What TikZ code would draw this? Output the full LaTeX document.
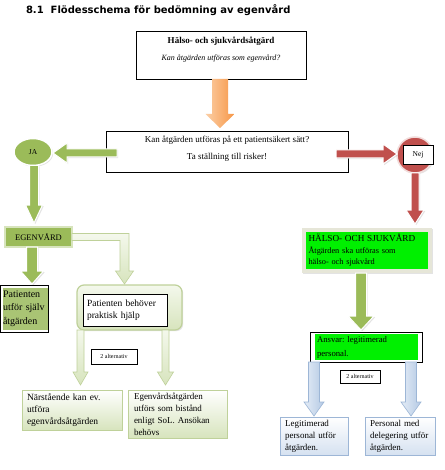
\documentclass[tikz,border=0pt]{standalone}
\usepackage{fontspec}
\setmainfont{Liberation Serif}
\newfontfamily\titlefont{DejaVu Sans}
\usetikzlibrary{calc,shadows,shapes.geometric}
\definecolor{olivegr}{HTML}{9BBB59}
\definecolor{olivelt}{HTML}{A9C474}
\definecolor{palegrA}{HTML}{F4F8EC}
\definecolor{palegrB}{HTML}{D7E4BD}
\definecolor{palegrE}{HTML}{BFD19A}
\definecolor{redacc}{HTML}{C0504D}
\definecolor{redglow}{HTML}{F2DCDB}
\definecolor{brightgr}{HTML}{00F000}
\definecolor{orangeA}{HTML}{FBCFA6}
\definecolor{orangeB}{HTML}{F79646}
\definecolor{blueA}{HTML}{E4ECF6}
\definecolor{blueB}{HTML}{B4C9E4}
\definecolor{blueE}{HTML}{9DB6D6}
\definecolor{beige}{HTML}{E6E6D8}
\frenchspacing
\newcommand\vdarrow[6]{\path[#1] let \p1=#2, \p2=#3 in
 (\x2-#4,\y1) -- (\x2+#4,\y1) -- (\x2+#4,\y2+#6) -- (\x2+#5,\y2+#6) -- (\x2,\y2)
 -- (\x2-#5,\y2+#6) -- (\x2-#4,\y2+#6) -- cycle;}
\newcommand\hlarrow[6]{\path[#1] let \p1=#2, \p2=#3 in
 (\x1,\y2+#4) -- (\x2+#6,\y2+#4) -- (\x2+#6,\y2+#5) -- (\x2,\y2) -- (\x2+#6,\y2-#5)
 -- (\x2+#6,\y2-#4) -- (\x1,\y2-#4) -- cycle;}
\newcommand\hrarrow[6]{\path[#1] let \p1=#2, \p2=#3 in
 (\x1,\y2+#4) -- (\x2-#6,\y2+#4) -- (\x2-#6,\y2+#5) -- (\x2,\y2) -- (\x2-#6,\y2-#5)
 -- (\x2-#6,\y2-#4) -- (\x1,\y2-#4) -- cycle;}
\begin{document}
\begin{tikzpicture}[x=1pt,y=-1pt,
  every node/.style={inner sep=2pt, outer sep=0pt},
  shad/.style={drop shadow={opacity=0.22, shadow xshift=1.2pt, shadow yshift=-1.2pt}},
  box/.style={draw=black, line width=0.8pt, fill=white},
  txt/.style={font=\fontsize{9}{12}\selectfont},
  smalltxt/.style={font=\fontsize{6}{7}\selectfont},
  olivearr/.style={fill=olivegr, draw=white, line width=1pt, shad},
  redarr/.style={fill=redacc, draw=white, line width=1pt, shad},
  orangearr/.style={left color=orangeA, right color=orangeB},
  palearr/.style={top color=palegrA, bottom color=palegrB, draw=palegrE, line width=0.6pt},
  bluearr/.style={left color=blueA, right color=blueB, draw=blueE, line width=0.6pt},
  greenbox/.style={top color=white, bottom color=palegrB, draw=palegrE, line width=0.8pt, shad, txt, align=left, anchor=north west},
  bluebox/.style={top color=white, bottom color=blueA!70!blueB, draw=blueE, line width=0.8pt, shad, txt, align=left, anchor=north west}
]
\useasboundingbox (0,0) rectangle (444,470);
\fill[white] (0,0) rectangle (444,470);

% title
\node[anchor=west, font=\titlefont\bfseries\fontsize{10}{12}\selectfont] (title) at (24,10) {8.1\ \ Flödesschema för bedömning av egenvård};

% top box
\node[box, minimum width=170, minimum height=48, anchor=north west] (q1) at (136,31) {};
\node[font=\fontsize{9}{10}\selectfont\bfseries] (q1a) at ($(q1.north)+(0,10)$) {Hälso- och sjukvårdsåtgärd};
\node[font=\fontsize{8}{10}\selectfont\itshape] (q1b) at ($(q1.north)+(0,27)$) {Kan åtgärden utföras som egenvård?};

% middle box
\node[box, minimum width=242, minimum height=41, anchor=north west] (q2) at (106,131) {};
\node[font=\fontsize{9}{10}\selectfont] (q2a) at ($(q2.north)+(0,9.5)$) {Kan åtgärden utföras på ett patientsäkert sätt?};
\node[font=\fontsize{9}{10}\selectfont] (q2b) at ($(q2.north)+(0,26.5)$) {Ta ställning till risker!};

% orange arrow
\vdarrow{orangearr}{(q1.south)}{($(q1.south |- q2.north)+(-1,-3)$)}{8pt}{14.5pt}{14pt}

% JA
\node[ellipse, minimum width=38, minimum height=27, fill=olivegr, draw=white, line width=1.5pt, shad, font=\fontsize{7.5}{8}\selectfont] (ja) at (33,152) {JA};
\hlarrow{olivearr}{($(q2.west)+(11,0)$)}{($(ja.east)+(1,1)$)}{4pt}{10pt}{14pt}

% EGENVÅRD
\node[fill=olivegr, draw=palegrB, line width=1.2pt, shad, minimum width=67, minimum height=20, anchor=north west, font=\fontsize{8.5}{10}\selectfont] (ego) at (5,227) {EGENVÅRD};
\vdarrow{olivearr}{(ja.south)}{($(ja.south |- ego.north)+(1,-4)$)}{4.5pt}{8.5pt}{18pt}

% Patienten utför själv åtgärden
\node[box, minimum width=47.5, minimum height=47, anchor=north west] (pself) at (0.5,285) {};
\node[fill=olivelt, minimum width=42, minimum height=42, text width=44, inner sep=0.5pt, anchor=north west, align=left, font=\fontsize{10}{13.5}\selectfont] (pselft) at (2.5,287.5) {Patienten\\utför själv\\åtgärden};
\vdarrow{olivearr}{($(ego.south west)+(22,0)$)}{($(ego.south west |- pself.north)+(27,-1)$)}{5.5pt}{11.5pt}{13pt}

% Patienten behöver praktisk hjälp
\node[rounded corners=7pt, top color=palegrA, bottom color=palegrB, draw=palegrE, line width=1.2pt, shad, minimum width=105, minimum height=45, anchor=north west] (pbh) at (77,285) {};
\node[box, minimum width=84, minimum height=32, text width=76, inner xsep=4pt, align=left, anchor=north west, font=\fontsize{9.5}{12}\selectfont] (pbht) at (83,294) {Patienten behöver\\praktisk hjälp};

% elbow arrow EGENVÅRD -> Patienten behöver
\path[palearr] let \p1=(ego.east), \p2=($(pbh.north)+(-5,-1)$) in
 (\x1,\y1+3.5pt) -- (\x2+4.5pt,\y1+3.5pt) -- (\x2+4.5pt,\y2+13pt) -- (\x2+9pt,\y2+13pt) -- (\x2,\y2)
 -- (\x2-9pt,\y2+13pt) -- (\x2-4.5pt,\y2+13pt) -- (\x2-4.5pt,\y1-3.5pt) -- (\x1,\y1-3.5pt) -- cycle;

% bottom-left boxes
\node[greenbox, minimum width=100, minimum height=40, text width=90, inner xsep=5pt, font=\fontsize{9.5}{12}\selectfont] (nar) at (22,390) {Närstående kan ev.\\utföra\\egenvårdsåtgärden};
\node[greenbox, minimum width=99, minimum height=48, text width=87, inner xsep=6pt] (egb) at (128,390) {Egenvårdsåtgärden\\utförs som bistånd\\enligt SoL. Ansökan\\behövs};
\vdarrow{palearr}{($(pbh.south west)+(3.5,0)$)}{($(pbh.south west |- nar.north)+(3.5,-5)$)}{3.5pt}{7.5pt}{13pt}
\vdarrow{palearr}{($(pbh.south west)+(88.5,0)$)}{($(pbh.south west |- nar.north)+(88.5,-5)$)}{3.5pt}{8pt}{13pt}
\node[box, line width=0.6pt, minimum width=46, minimum height=15, smalltxt] (alt1) at (114,356.5) {2 alternativ};

% Nej
\node[circle, minimum size=36, fill=redacc, draw=redglow, line width=1.5pt, shad] (nejc) at (415,155) {};
\hrarrow{redarr}{($(q2.east)+(-12,0)$)}{($(nejc.west)+(0,-1)$)}{4pt}{10pt}{14pt}
\node[box, minimum width=30, minimum height=19, font=\fontsize{7.5}{8}\selectfont] (nej) at (418,154.5) {Nej};

% HÄLSO- OCH SJUKVÅRD
\node[fill=beige, minimum width=130, minimum height=45, anchor=north west, shad] (hs) at (302,228) {};
\node[fill=brightgr, minimum width=122, minimum height=37, text width=117, inner xsep=2.5pt, anchor=north west, align=left, font=\fontsize{8.3}{11.5}\selectfont] (hst) at (306,232) {{\fontsize{9.2}{11}\selectfont HÄLSO- OCH SJUKVÅRD}\\Åtgärden ska utföras som\\hälso- och sjukvård};
\vdarrow{redarr}{(nejc.south)}{($(nejc.south |- hs.north)+(0,-4)$)}{4pt}{9pt}{14pt}

% Ansvar
\node[box, minimum width=112, minimum height=30, anchor=north west] (ans) at (310,332) {};
\node[fill=brightgr, minimum width=103, minimum height=26, text width=99, inner xsep=2pt, anchor=north west, align=left, font=\fontsize{8.7}{14}\selectfont] (anst) at (315,334) {Ansvar: legitimerad\\personal.};
\vdarrow{olivearr}{($(hs.south)+(-6,0)$)}{($(hs.south |- ans.north)+(-6,-2)$)}{5.5pt}{13pt}{14pt}

% bottom-right boxes
\node[bluebox, minimum width=68, minimum height=38, text width=58, inner xsep=5pt] (leg) at (280,417) {Legitimerad\\personal utför\\åtgärden.};
\node[bluebox, minimum width=70, minimum height=38, text width=60, inner xsep=5pt] (pm) at (365,417) {Personal med\\delegering utför\\åtgärden.};
\vdarrow{bluearr}{(leg.north |- ans.south)}{($(leg.north)+(0,-1)$)}{5.5pt}{10pt}{14pt}
\vdarrow{bluearr}{($(pm.north |- ans.south)+(11,0)$)}{($(pm.north)+(11,-1)$)}{5.5pt}{10pt}{14pt}
\node[box, line width=0.6pt, minimum width=40, minimum height=13, smalltxt] (alt2) at (360,376.5) {2 alternativ};
\end{tikzpicture}
\end{document}
